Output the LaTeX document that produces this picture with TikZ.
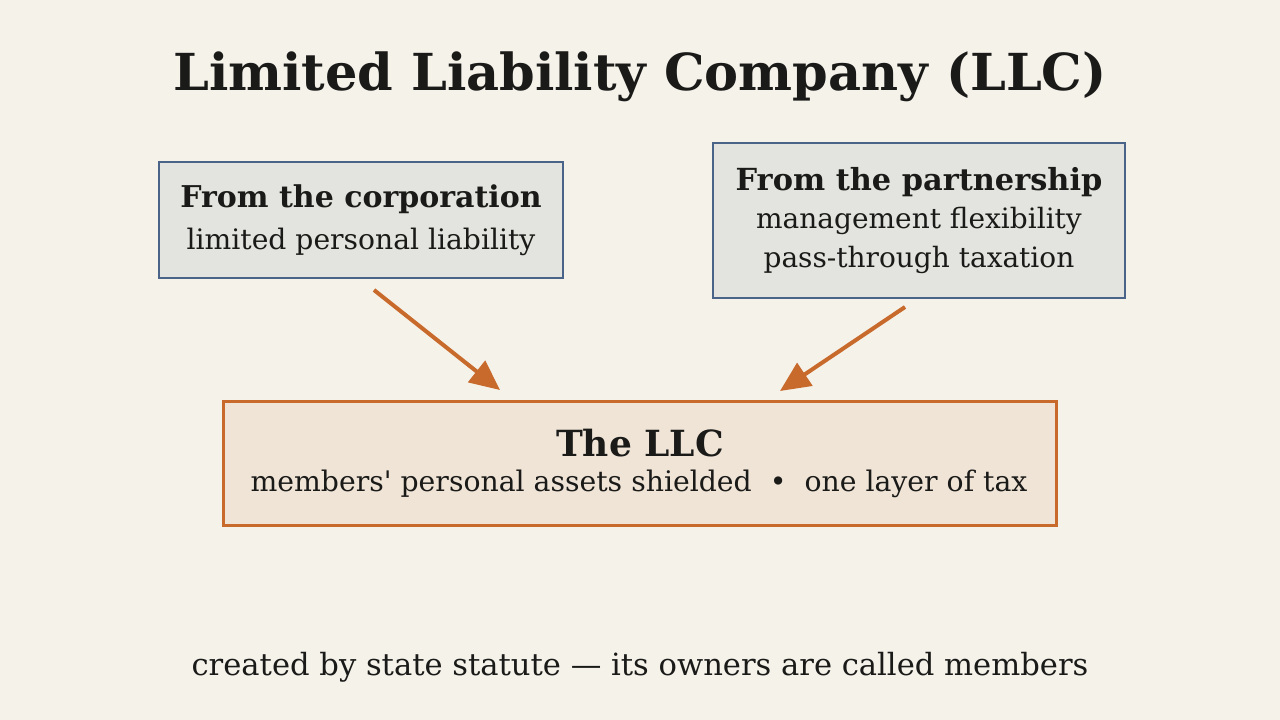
\documentclass[tikz,border=0pt]{standalone}
\usepackage{fontspec}
\setmainfont{DejaVu Serif}
\usepackage{tikz}
\usetikzlibrary{arrows.meta}

\definecolor{bgcol}{HTML}{F5F2EA}
\definecolor{srcfill}{HTML}{E3E3DF}
\definecolor{srcline}{HTML}{4A6489}
\definecolor{llcfill}{HTML}{F0E4D7}
\definecolor{llcline}{HTML}{C86A2B}
\definecolor{ink}{HTML}{1A1A18}

\begin{document}
\begin{tikzpicture}[x=1pt, y=-1pt]
\tikzset{ >=Triangle, inner sep=0pt, outer sep=0pt,
  srcbox/.style={draw=srcline, fill=srcfill, line width=2pt},
  llcbox/.style={draw=llcline, fill=llcfill, line width=3pt},
  txt/.style={text=ink, anchor=base},
  feed/.style={->, draw=llcline, line width=4pt, >={Triangle[length=30pt,width=27pt]}},
}

\fill [bgcol] (0,0) rectangle (1280,720);

\node [txt, font=\fontsize{51}{60}\selectfont\bfseries] (title) at (640,90) {Limited Liability Company (LLC)};

\node [srcbox, minimum width=404pt, minimum height=116pt] (corp) at (361,220) {};
\node [txt, font=\fontsize{30}{36}\selectfont\bfseries] (corphead) at (361,207) {From the corporation};
\node [txt, font=\fontsize{28.2}{34}\selectfont] (corptext) at (361,249) {limited personal liability};

\node [srcbox, minimum width=412pt, minimum height=155pt] (part) at (919,220.5) {};
\node [txt, font=\fontsize{30.4}{36}\selectfont\bfseries] (parthead) at (919,190) {From the partnership};
\node [txt, font=\fontsize{28}{34}\selectfont] (parttext1) at (919,228) {management flexibility};
\node [txt, font=\fontsize{28}{34}\selectfont] (parttext2) at (919,267) {pass-through taxation};

\node [llcbox, minimum width=833pt, minimum height=124pt] (llc) at (639.5,463) {};
\node [txt, font=\fontsize{36}{42}\selectfont\bfseries] (llchead) at (640,456) {The LLC};
\node [txt, font=\fontsize{28.3}{34}\selectfont] (llctext) at (639,491) {members\textquotesingle\ personal assets shielded~~•~~one layer of tax};

\draw [feed] ([xshift=13pt,yshift=-12pt]corp.south) -- ([xshift=-139.5pt,yshift=11pt]llc.north);
\draw [feed] ([xshift=-14pt,yshift=-9pt]part.south) -- ([xshift=140.5pt,yshift=10pt]llc.north);

\node [txt, font=\fontsize{30.6}{36}\selectfont] (note) at (640,675) {created by state statute — its owners are called members};

\end{tikzpicture}
\end{document}
